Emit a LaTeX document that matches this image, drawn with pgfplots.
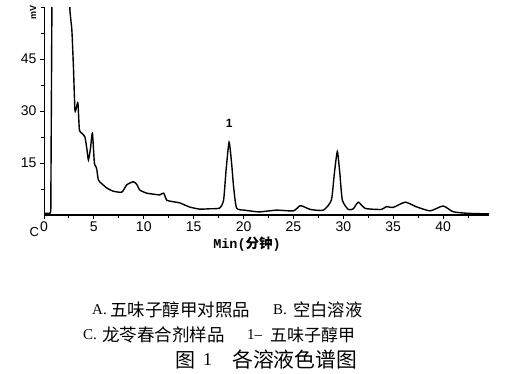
\documentclass[border=0pt]{standalone}
\usepackage{fontspec}
\usepackage{pgfplots}
\pgfplotsset{compat=1.18}
\setmainfont{Liberation Serif}
\setsansfont{Liberation Sans}
\setmonofont{Liberation Mono}
\newfontfamily\cjk{Noto Sans CJK SC}
\begin{document}
\begin{tikzpicture}[x=1pt,y=1pt]
\useasboundingbox (0,0) rectangle (532,373);
\begin{axis}[
  at={(44pt,158pt)}, anchor=south west,
  scale only axis, width=445pt, height=208pt,
  xmin=0, xmax=44.6, ymin=0, ymax=60,
  axis lines*=left,
  x axis line style={line width=1.6pt},
  y axis line style={line width=0.9pt},
  xtick={0,5,...,40}, minor xtick={2.5,7.5,...,42.5},
  ytick={15,30,45}, minor ytick={7.5,22.5,37.5,52.5,60},
  tick align=outside,
  major tick length=4pt, minor tick length=3pt,
  tick style={line width=0.9pt,black},
  /pgf/number format/assume math mode=true,
  ticklabel style={font=\fontsize{14}{14}\sffamily},
  xticklabel style={yshift=1pt},
  clip=true,
]
\addplot[black, line width=1.4pt] coordinates {
(0,0.5) (0.6,0.5) (0.68,1) (0.8,64)
};
\addplot[black, line width=1.4pt, smooth, tension=0.35] coordinates {
(2.55,64) (2.6,59) (2.7,56) (2.8,53) (2.95,42.7)
(3.1,30.3) (3.25,31) (3.4,32.3) (3.55,24.5) (3.8,23.6) (4.1,22.5) (4.3,19) (4.45,15.9)
(4.65,19) (4.85,23.6) (5.05,15) (5.2,14) (5.3,13) (5.45,10.1) (5.8,9) (6.3,7.8) (6.9,6.9)
(7.8,6.6) (8.3,8.7) (8.95,9.6) (9.3,8.8) (9.6,7.2) (10.3,6.3) (11.0,6.0) (11.6,5.8)
(12.0,6.3) (12.3,4.3) (13.0,3.8) (13.6,3.5) (14.6,2.3) (15.6,1.7) (16.6,1.8) (17.6,2.0)
(18.0,4.3) (18.25,13) (18.55,21) (18.8,15) (19.0,8.2) (19.3,2) (20.1,1.4) (20.6,1.2)
(21.6,0.9) (23.3,1.4) (25.0,1.2) (25.7,2.7) (26.7,1.6) (28.0,1.4) (28.8,4.3) (29.1,12)
(29.4,18.3) (29.65,12) (29.9,4.3) (30.5,1.6) (31.0,1.8) (31.5,3.7) (32.2,1.9) (33.8,1.6)
(34.3,2.4) (35.0,2.2) (36.2,3.7) (37.3,2.4) (38.7,1.2) (40.0,2.6) (41.0,0.95) (42.4,0.5)
(44.6,0.3)
};
\node[font=\fontsize{12}{12}\sffamily\bfseries] at (axis cs:18.55,26.5) {1};
\end{axis}
% y-axis unit
\node[rotate=90, font=\fontsize{9}{9}\sffamily\bfseries, inner sep=0] at (33,361) {mV};
% origin C
\node[anchor=east, inner sep=0, font=\fontsize{13}{13}\sffamily] at (39.2,141) {C};
% x label
\node[inner sep=0] at (247,129) {\fontsize{13.5}{13.5}\selectfont\ttfamily\bfseries Min(\cjk\bfseries 分钟\ttfamily)};
% caption
\node[anchor=west, inner sep=0, font=\fontsize{15}{15}\selectfont] at (92,63) {A.};
\node[anchor=west, inner sep=0, font=\fontsize{17.5}{17.5}\cjk] at (110,63) {五味子醇甲对照品};
\node[anchor=west, inner sep=0, font=\fontsize{15}{15}\selectfont] at (273,63) {B.};
\node[anchor=west, inner sep=0, font=\fontsize{17.3}{17.3}\cjk] at (293,63) {空白溶液};
\node[anchor=west, inner sep=0, font=\fontsize{15}{15}\selectfont] at (83,38) {C.};
\node[anchor=west, inner sep=0, font=\fontsize{17.5}{17.5}\cjk] at (102,38) {龙苓春合剂样品};
\node[anchor=west, inner sep=0, font=\fontsize{15}{15}\selectfont] at (247,38) {1–};
\node[anchor=west, inner sep=0, font=\fontsize{17}{17}\cjk] at (270,38) {五味子醇甲};
\node[anchor=west, inner sep=0, font=\fontsize{20}{20}\cjk] at (175,13) {图};
\node[anchor=west, inner sep=0, font=\fontsize{18}{18}\selectfont] at (203,13) {1};
\node[anchor=west, inner sep=0, font=\fontsize{20.8}{20.8}\cjk] at (232,13) {各溶液色谱图};
\end{tikzpicture}
\end{document}
